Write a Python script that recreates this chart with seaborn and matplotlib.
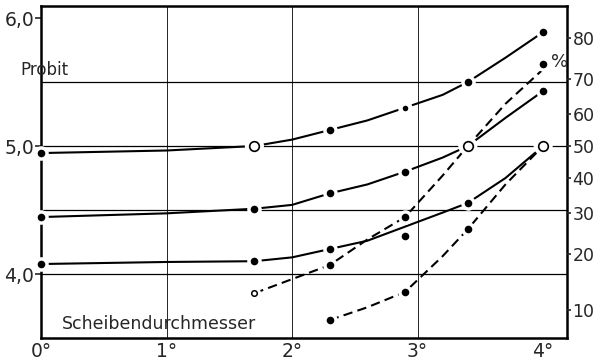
import pandas as pd
import seaborn as sns
import matplotlib.pyplot as plt
from statistics import NormalDist

# curves (probit units), same x positions for the solid ones
x_curve = [0, 1.0, 1.7, 2.0, 2.3, 2.6, 2.9, 3.2, 3.4, 3.7, 4.0]
curve_a = [4.945, 4.965, 5.0, 5.05, 5.125, 5.2, 5.3, 5.40, 5.5, 5.69, 5.89]
curve_b = [4.445, 4.474, 4.51, 4.54, 4.63, 4.70, 4.80, 4.91, 5.0, 5.22, 5.43]
curve_c = [4.078, 4.094, 4.10, 4.13, 4.195, 4.26, 4.37, 4.48, 4.555, 4.75, 5.0]

x_dash_d = [1.7, 2.0, 2.3, 2.6, 2.9, 3.2, 3.4, 3.7, 4.0]
dash_d = [3.85, 3.96, 4.07, 4.27, 4.445, 4.77, 5.0, 5.33, 5.60]
x_dash_e = [2.3, 2.6, 2.9, 3.2, 3.4, 3.7, 4.0]
dash_e = [3.64, 3.74, 3.86, 4.14, 4.35, 4.70, 5.0]

# measured points
dots_x = [0, 2.3, 3.4, 4.0,
          0, 1.7, 2.3, 2.9, 4.0,
          0, 1.7, 2.3, 2.9, 3.4,
          2.3, 2.9, 4.0,
          2.3, 2.9, 3.4]
dots_y = [4.945, 5.125, 5.5, 5.89,
          4.445, 4.51, 4.63, 4.80, 5.43,
          4.078, 4.10, 4.195, 4.30, 4.555,
          4.07, 4.445, 5.64,
          3.64, 3.86, 4.35]
small_dots_x = [2.9]
small_dots_y = [5.30]
open_x = [1.7, 3.4, 4.0]
open_y = [5.0, 5.0, 5.0]
small_open_x = [1.7]
small_open_y = [3.85]

x_ticks = [0, 1, 2, 3, 4]
x_labels = ['0°', '1°', '2°', '3°', '4°']
probit_ticks = [4.0, 5.0, 6.0]
probit_labels = ['4,0', '5,0', '6,0']
grid_y = [4.0, 4.5, 5.0, 5.5]
percent_ticks = [10, 20, 30, 40, 50, 60, 70, 80]

sns.set_style('white')
plt.rcParams['font.family'] = ['DejaVu Sans']

fig = plt.figure(figsize=(5.98, 3.64), dpi=100)
ax = fig.add_axes([41 / 598, 26 / 364, 526 / 598, 332 / 364])

for gy in grid_y:
    ax.axhline(gy, color='black', lw=0.9, zorder=1)
for gx in [1, 2, 3]:
    ax.axvline(gx, color='black', lw=0.6, zorder=1)

for cy in [curve_a, curve_b, curve_c]:
    sns.lineplot(x=x_curve, y=cy, ax=ax, color='black', lw=1.5,
                 sort=False, estimator=None, zorder=2)
sns.lineplot(x=x_dash_d, y=dash_d, ax=ax, color='black', lw=1.5,
             linestyle=(0, (4.5, 2.5)), sort=False, estimator=None, zorder=2)
sns.lineplot(x=x_dash_e, y=dash_e, ax=ax, color='black', lw=1.5,
             linestyle=(0, (4.5, 2.5)), sort=False, estimator=None, zorder=2)

# white halos first so lines (and the spine) break at the markers
sns.scatterplot(x=dots_x + small_dots_x, y=dots_y + small_dots_y, ax=ax, s=110,
                color='white', linewidth=0, zorder=4, clip_on=False)
sns.scatterplot(x=open_x + small_open_x, y=open_y + small_open_y, ax=ax,
                s=[190, 190, 190, 90], color='white', linewidth=0, zorder=4,
                clip_on=False, legend=False)
sns.scatterplot(x=dots_x, y=dots_y, ax=ax, s=30, color='black',
                linewidth=0, zorder=5, clip_on=False)
sns.scatterplot(x=small_dots_x, y=small_dots_y, ax=ax, s=16, color='black',
                linewidth=0, zorder=5)
sns.scatterplot(x=open_x, y=open_y, ax=ax, s=48, color='white',
                edgecolor='black', linewidth=1.2, zorder=5)
sns.scatterplot(x=small_open_x, y=small_open_y, ax=ax, s=16, color='white',
                edgecolor='black', linewidth=1.1, zorder=5)

ax.set_xlim(0, 4.19)
ax.set_ylim(3.5, 6.094)
ax.set_xticks(x_ticks)
ax.set_xticklabels(x_labels, fontsize=13.5)
ax.set_xticks([0.5, 1.5, 2.5, 3.5], minor=True)
ax.tick_params(axis='x', which='both', direction='in', length=4, width=1.2, pad=3)
ax.set_yticks(probit_ticks)
ax.set_yticklabels(probit_labels, fontsize=13.5)
ax.tick_params(axis='y', direction='out', length=4, width=1.2, pad=1)
for sp in ax.spines.values():
    sp.set_linewidth(1.8)
    sp.set_color('black')

ax2 = ax.twinx()
ax2.set_ylim(ax.get_ylim())
ax2.set_yticks([NormalDist().inv_cdf(p / 100) + 5 for p in percent_ticks])
ax2.set_yticklabels([str(p) for p in percent_ticks], fontsize=12.5)
ax2.tick_params(axis='y', direction='out', length=3, width=1.2, pad=1)
for sp in ax2.spines.values():
    sp.set_visible(False)

fig.text(20 / 598, 1 - 70 / 364, 'Probit', fontsize=12, va='center', ha='left')
fig.text(560 / 598, 1 - 62 / 364, '%', fontsize=13, va='center', ha='center')
ax.text(0.17, 3.61, 'Scheibendurchmesser', fontsize=12.5, va='center', ha='left')

fig.savefig('out.png', dpi=100)
